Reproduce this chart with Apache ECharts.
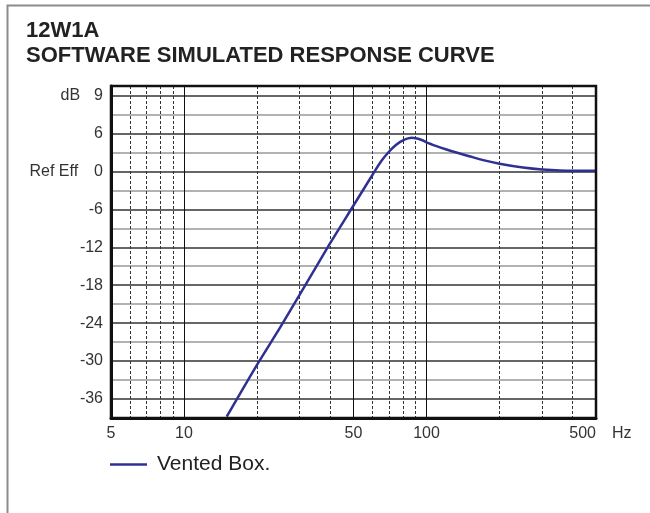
<!DOCTYPE html>
<html>
<head>
<meta charset="utf-8">
<script src="https://cdn.jsdelivr.net/npm/echarts@6/dist/echarts.min.js"></script>
<style>
  html, body { margin: 0; padding: 0; background: #fff; }
  #main { width: 650px; height: 513px; }
</style>
</head>
<body>
<div id="main"></div>
<script>
// frequency response (Hz, dB)
var freqs = [15, 20, 25, 30, 40, 50, 60, 65, 70, 75, 80, 87, 95, 100, 110, 120, 135, 150, 175, 200, 250, 300, 400, 500];
var levels = [-38.8, -30.6, -24.6, -19.5, -11.4, -5.4, -0.5, 1.6, 3.1, 4.2, 4.9, 5.3, 5.0, 4.6, 4.0, 3.5, 2.9, 2.4, 1.7, 1.2, 0.6, 0.3, 0.1, 0.1];

// x axis: labelled, solid and dashed grid frequencies
var xLabelFreqs = [5, 10, 50, 100, 500];
var xSolidFreqs = [10, 50, 100];
var xDashFreqs = [6, 7, 8, 9, 20, 30, 40, 60, 70, 80, 90, 200, 300, 400];

// y axis ticks and the text printed at them
var yTickValues = [12, 6, 0, -6, -12, -18, -24, -30, -36];
var yTickLabels = ['9', '6', '0', '-6', '-12', '-18', '-24', '-30', '-36'];

var lg = function (f) { return Math.log10(f); };
var xMin = lg(5), xMax = lg(500);
var font = 'Liberation Sans, Arial, Helvetica, sans-serif';

var chart = echarts.init(document.getElementById('main'));
chart.setOption({
    animation: false,
    textStyle: { fontFamily: font },
    title: [{
        text: '12W1A',
        left: 26, top: 20, padding: 0,
        textStyle: { fontSize: 22, fontWeight: 'bold', color: '#222', fontFamily: font }
    }, {
        text: 'SOFTWARE SIMULATED RESPONSE CURVE',
        left: 26, top: 45, padding: 0,
        textStyle: { fontSize: 22, fontWeight: 'bold', color: '#222', fontFamily: font }
    }],
    graphic: [{
        type: 'polyline',
        shape: { points: [[7.5, 513], [7.5, 5.5], [650, 5.5]] },
        style: { stroke: '#8c8c8c', lineWidth: 2, fill: null }
    }],
    legend: {
        left: 110, top: 454, padding: 0,
        icon: 'rect', itemWidth: 37, itemHeight: 2.5,
        itemStyle: { color: '#2e3192' },
        textStyle: { fontSize: 21, color: '#222', fontFamily: font, padding: [0, 0, 0, 5] },
        data: ['Vented Box.']
    },
    grid: {
        left: 111, right: 54, top: 86, bottom: 95,
        show: true, borderColor: '#111', borderWidth: 2.5, z: 5
    },
    xAxis: [{
        type: 'value', min: xMin, max: xMax,
        name: 'Hz', nameLocation: 'end', nameGap: 16,
        nameTextStyle: { fontSize: 16, color: '#333', verticalAlign: 'top', padding: [8, 0, 0, 0] },
        axisLine: { show: true, onZero: false, lineStyle: { color: '#111', width: 3 } },
        axisTick: { show: false, customValues: xSolidFreqs.map(lg) },
        axisLabel: {
            customValues: xLabelFreqs.map(lg),
            formatter: function (v) { return String(Math.round(Math.pow(10, v))); },
            fontSize: 16, color: '#333', margin: 8,
            alignMaxLabel: 'right'
        },
        splitLine: { show: true, lineStyle: { color: '#111', width: 1, type: 'solid' } }
    }, {
        type: 'value', min: xMin, max: xMax, position: 'top',
        axisLine: { show: false },
        axisTick: { show: false, customValues: xDashFreqs.map(lg) },
        axisLabel: { show: false },
        splitLine: { show: true, lineStyle: { color: '#333', width: 1, type: [3, 2] } }
    }],
    yAxis: {
        type: 'value', min: -39, max: 13.5, interval: 3,
        axisLine: { show: true, onZero: false, lineStyle: { color: '#111', width: 3 } },
        axisTick: { show: false },
        axisLabel: {
            fontSize: 16, color: '#333', margin: 8,
            formatter: function (v) {
                var i = yTickValues.indexOf(v);
                if (i < 0) return '';
                if (v === 12) return '{u|dB}' + yTickLabels[i];
                if (v === 0) return '{r|Ref Eff}' + yTickLabels[i];
                return yTickLabels[i];
            },
            rich: {
                u: { fontSize: 16, color: '#333', padding: [0, 14, 0, 0], fontFamily: font },
                r: { fontSize: 16, color: '#333', padding: [0, 16, 0, 0], fontFamily: font }
            }
        },
        splitLine: { show: true, lineStyle: { color: ['#999', '#333'], width: 1.5 } }
    },
    series: [{
        name: 'Vented Box.',
        type: 'line',
        xAxisIndex: 0,
        data: freqs.map(function (f, i) { return [lg(f), levels[i]]; }),
        smooth: 0.3,
        symbol: 'none',
        lineStyle: { color: '#2e3192', width: 2.5 },
        itemStyle: { color: '#2e3192' },
        z: 3
    }]
});
</script>
</body>
</html>
